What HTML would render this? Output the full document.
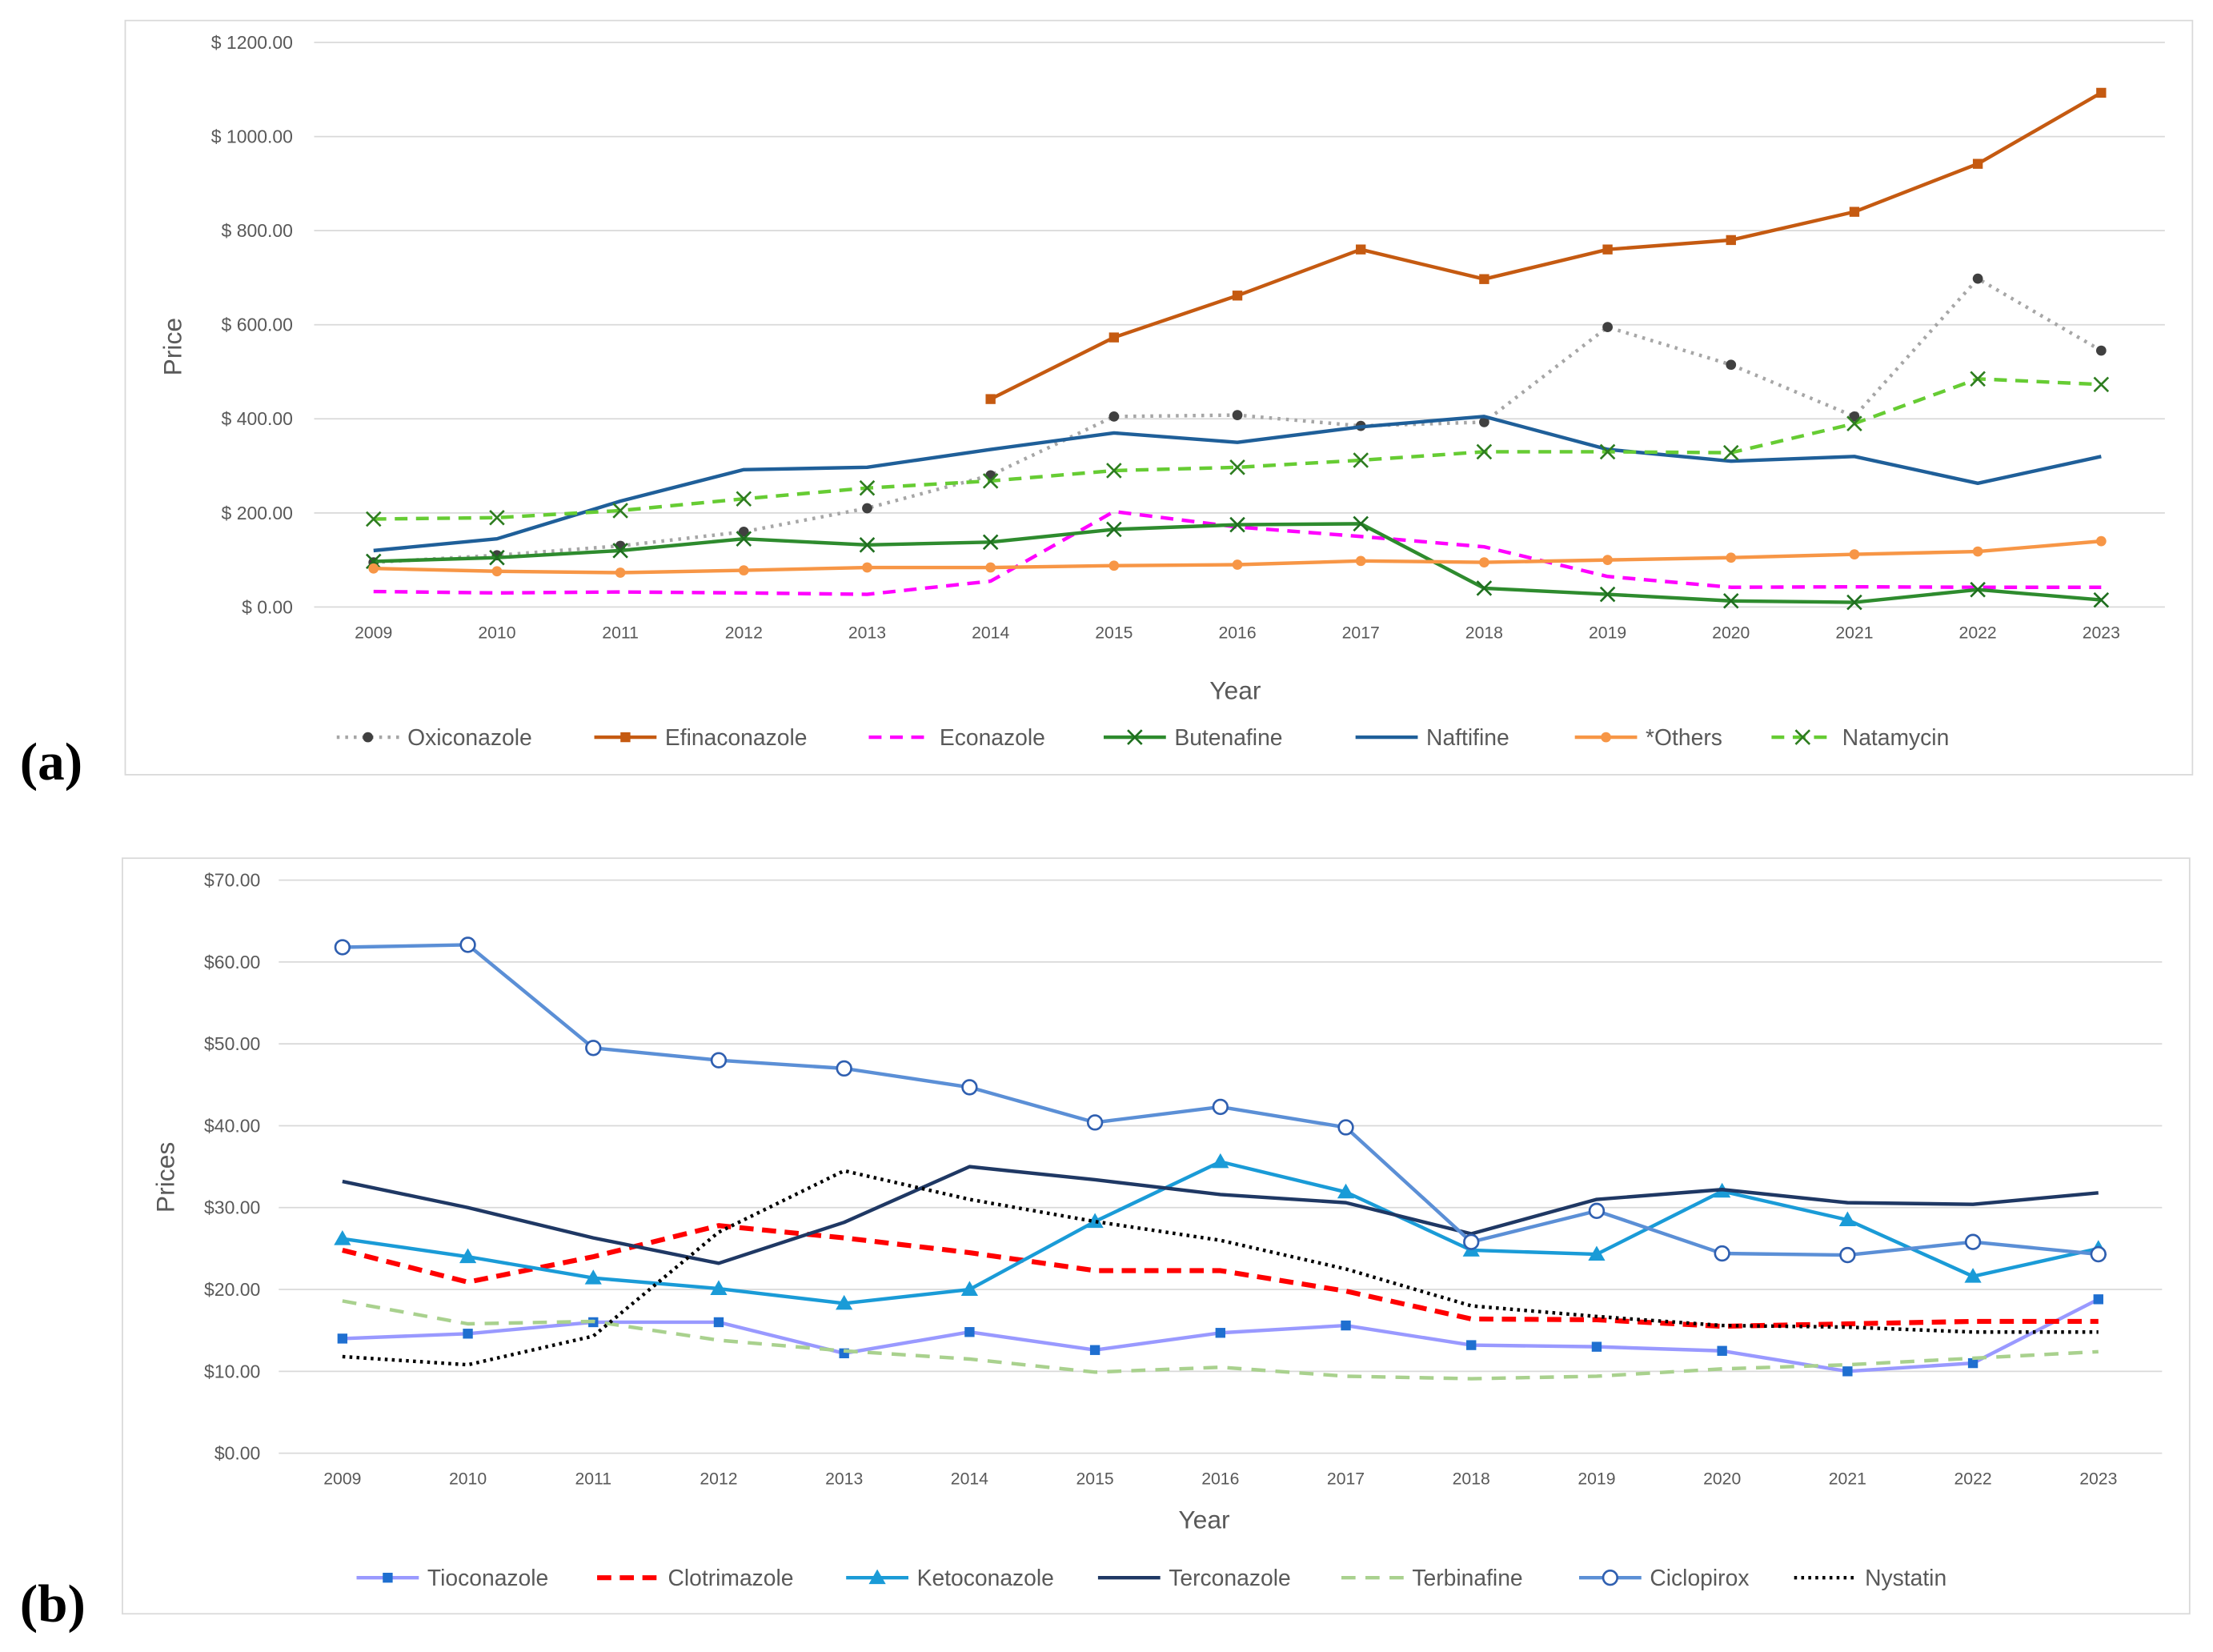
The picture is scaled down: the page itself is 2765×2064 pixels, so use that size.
<!DOCTYPE html>
<html><head><meta charset="utf-8"><style>
html,body{margin:0;padding:0;background:#fff;}
svg{display:block;font-family:"Liberation Sans",sans-serif;}
</style></head><body>
<svg id="s" width="2765" height="2064" viewBox="0 0 1564 1167.5" xmlns="http://www.w3.org/2000/svg">
<rect x="0" y="0" width="1564" height="1167.5" fill="#fff"/>
<rect x="88.5" y="14.5" width="1461" height="533" fill="none" stroke="#d9d9d9"/>
<rect x="86.5" y="606.5" width="1461" height="534" fill="none" stroke="#d9d9d9"/>
<text x="14" y="551" font-family="Liberation Serif,serif" font-weight="bold" font-size="38">(a)</text>
<text x="14" y="1146" font-family="Liberation Serif,serif" font-weight="bold" font-size="38">(b)</text>
<g id="ga"></g><g id="gb"></g>
</svg>
<script>
const years=[2009,2010,2011,2012,2013,2014,2015,2016,2017,2018,2019,2020,2021,2022,2023];
const ticksA=[0,200,400,600,800,1000,1200];
const ticksB=[0,10,20,30,40,50,60,70];
const oxiconazole=[95,110,130,160,210,280,405,408,385,393,595,515,405,698,545];
const efinaconazole=[null,null,null,null,null,442,573,662,760,697,760,780,840,942,1093];
const econazole=[33,30,32,30,27,55,203,170,150,128,65,42,43,42,42];
const butenafine=[97,105,120,145,132,138,165,175,177,40,27,13,10,37,15];
const naftifine=[120,145,225,292,297,335,370,350,383,405,335,310,320,263,320];
const others=[82,76,73,78,84,84,88,90,98,95,100,105,112,118,140];
const natamycin=[187,190,205,230,253,268,290,297,312,330,330,328,390,485,473];
const tioconazole=[14,14.6,16,16,12.2,14.8,12.6,14.7,15.6,13.2,13,12.5,10,11,18.8];
const clotrimazole=[24.8,20.9,24,27.8,26.3,24.5,22.3,22.3,19.8,16.4,16.3,15.5,15.8,16.1,16.1];
const ketoconazole=[26.2,24,21.4,20.1,18.3,20,28.3,35.6,31.9,24.8,24.3,32,28.5,21.6,25];
const terconazole=[33.2,30,26.3,23.2,28.2,35,33.4,31.6,30.6,26.8,31,32.2,30.6,30.4,31.8];
const terbinafine=[18.6,15.8,16.1,13.8,12.5,11.5,9.9,10.5,9.4,9.1,9.4,10.3,10.8,11.6,12.4];
const ciclopirox=[61.8,62.1,49.5,48,47,44.7,40.4,42.3,39.8,25.8,29.6,24.4,24.2,25.8,24.3];
const nystatin=[11.8,10.8,14.3,27,34.5,31,28.3,26,22.5,18,16.7,15.6,15.4,14.8,14.8];
const NS="http://www.w3.org/2000/svg";
function mk(p,t,a){const e=document.createElementNS(NS,t);for(const k in a)e.setAttribute(k,a[k]);p.appendChild(e);return e;}
function marker(g,type,x,y,c,fill){
  let e;
  if(type==='circle')e=mk(g,'circle',{cx:x,cy:y,r:3.6,fill:c});
  else if(type==='square')e=mk(g,'rect',{x:x-3.5,y:y-3.5,width:7,height:7,fill:c});
  else if(type==='tri')e=mk(g,'path',{d:`M${x} ${y-6}L${x+6} ${y+4.5}L${x-6} ${y+4.5}Z`,fill:c});
  else if(type==='x')e=mk(g,'path',{d:`M${x-5} ${y-5}L${x+5} ${y+5}M${x-5} ${y+5}L${x+5} ${y-5}`,stroke:c,'stroke-width':1.5});
  else if(type==='ocircle')e=mk(g,'circle',{cx:x,cy:y,r:5,fill:'#fff',stroke:c,'stroke-width':1.5});
  if(e){}
}
function chart(g,o){
  const xs=i=>o.x0+(o.x1-o.x0)*i/(years.length-1);
  const ys=v=>o.y0-(o.y0-o.y1)*v/o.max;
  o.ticks.forEach(t=>{
    const l=mk(g,'line',{x1:o.gx0,x2:o.gx1,y1:ys(t),y2:ys(t),stroke:'#d9d9d9','stroke-width':1});
    
    const tx=mk(g,'text',{x:o.lx,y:ys(t)+4.5,'text-anchor':'end','font-size':13,fill:'#595959'});
    tx.textContent=o.fmt(t);
    
  });
  years.forEach((y,i)=>{
    const tx=mk(g,'text',{x:xs(i),y:o.y0+22,'text-anchor':'middle','font-size':12,fill:'#595959'});
    tx.textContent=y;
    
  });
  let t=mk(g,'text',{x:o.xt[0],y:o.xt[1],'text-anchor':'middle','font-size':18,fill:'#595959'});t.textContent='Year';
  
  t=mk(g,'text',{x:o.yt[0],y:o.yt[1],'text-anchor':'middle','font-size':18,fill:'#595959',transform:`rotate(-90 ${o.yt[0]} ${o.yt[1]})`});t.textContent=o.ytitle;
  
  o.series.forEach(s=>{
    const sg=mk(g,'g',{});
    
    
    let d='';s.data.forEach((v,i)=>{if(v==null)return;d+=(d?'L':'M')+xs(i)+' '+ys(v);});
    const a={d:d,fill:'none',stroke:s.c,'stroke-width':s.w||2.5,'stroke-linejoin':'round'};
    if(s.dash)a['stroke-dasharray']=s.dash;
    mk(sg,'path',a);
    if(s.m)s.data.forEach((v,i)=>{if(v!=null)marker(sg,s.m,xs(i),ys(v),s.mc||s.c);});
  });
  // legend
  o.series.forEach((s,i)=>{
    const lx=o.leg[i],ly=o.ly;
    const lg=mk(g,'g',{});
    
    const a={x1:lx,x2:lx+44,y1:ly,y2:ly,stroke:s.c,'stroke-width':s.w||2.5};
    if(s.dash)a['stroke-dasharray']=s.dash;
    mk(lg,'line',a);
    if(s.m)marker(lg,s.m,lx+22,ly,s.mc||s.c);
    const tx=mk(lg,'text',{x:lx+50,y:ly+5.5,'font-size':16,fill:'#595959'});tx.textContent=s.name;
  });
}
chart(document.getElementById('ga'),{x0:264,x1:1485,y0:429,y1:30,max:1200,gx0:222,gx1:1530,lx:207,ticks:ticksA,
  fmt:v=>'$ '+v.toFixed(2),xt:[873,494],yt:[128,245],ytitle:'Price',ly:521,
  leg:[238,420,614,780,958,1113,1252],
  series:[
   {name:'Oxiconazole',data:oxiconazole,c:'#a6a6a6',dash:'2 4',m:'circle',mc:'#404040',w:2.5},
   {name:'Efinaconazole',data:efinaconazole,c:'#c55a11',m:'square'},
   {name:'Econazole',data:econazole,c:'#ff00ff',dash:'9 6'},
   {name:'Butenafine',data:butenafine,c:'#2e8b2e',m:'x',mc:'#1f6f1f'},
   {name:'Naftifine',data:naftifine,c:'#1f5f99'},
   {name:'*Others',data:others,c:'#f79646',m:'circle'},
   {name:'Natamycin',data:natamycin,c:'#66cc33',dash:'9 6',m:'x',mc:'#2e7d20'}
  ]});
chart(document.getElementById('gb'),{x0:242,x1:1483,y0:1027,y1:622,max:70,gx0:197,gx1:1528,lx:184,ticks:ticksB,
  fmt:v=>'$'+v.toFixed(2),xt:[851,1080],yt:[123,832],ytitle:'Prices',ly:1115,
  leg:[252,422,598,776,948,1116,1268],
  series:[
   {name:'Tioconazole',data:tioconazole,c:'#9999ff',m:'square',mc:'#1f6fd0'},
   {name:'Clotrimazole',data:clotrimazole,c:'#ff0000',dash:'10 6',w:3.5},
   {name:'Ketoconazole',data:ketoconazole,c:'#1a9bd7',m:'tri'},
   {name:'Terconazole',data:terconazole,c:'#1f3864'},
   {name:'Terbinafine',data:terbinafine,c:'#a9d18e',dash:'10 7'},
   {name:'Ciclopirox',data:ciclopirox,c:'#5b8fd6',m:'ocircle',mc:'#2f5fb0'},
   {name:'Nystatin',data:nystatin,c:'#000',dash:'2 3'}
  ]});
</script>
</body></html>
